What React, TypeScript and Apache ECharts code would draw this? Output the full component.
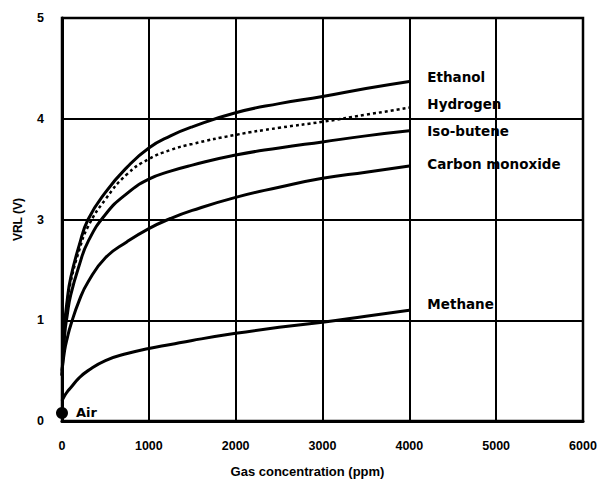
import React, { useEffect, useRef } from "react";
import * as echarts from "echarts";

const concentrations = [0, 30, 60, 100, 200, 300, 500, 750, 1000, 1250, 1500, 2000, 2500, 3000, 3500, 4000];
const ethanol = [0.45, 0.95, 1.2, 1.42, 1.75, 2.0, 2.27, 2.52, 2.71, 2.83, 2.92, 3.06, 3.15, 3.22, 3.3, 3.37];
const hydrogen = [0.45, 0.92, 1.17, 1.38, 1.7, 1.93, 2.2, 2.45, 2.6, 2.69, 2.75, 2.84, 2.91, 2.97, 3.04, 3.11];
const isoButene = [0.45, 0.85, 1.05, 1.25, 1.55, 1.78, 2.05, 2.26, 2.4, 2.48, 2.54, 2.64, 2.71, 2.77, 2.83, 2.88];
const carbonMonoxide = [0.5, 0.7, 0.82, 0.95, 1.2, 1.38, 1.62, 1.78, 1.91, 2.01, 2.09, 2.22, 2.32, 2.41, 2.47, 2.53];
const methane = [0.2, 0.25, 0.29, 0.33, 0.43, 0.5, 0.6, 0.67, 0.72, 0.76, 0.8, 0.87, 0.93, 0.98, 1.04, 1.1];
const airPoint = [0, 0.08];

const xTicks = ["0", "1000", "2000", "3000", "4000", "5000", "6000"];
const yTicks = ["0", "1", "3", "4", "5"];

const seriesNames = ["Ethanol", "Hydrogen", "Iso-butene", "Carbon monoxide", "Methane"];
const seriesValues = [ethanol, hydrogen, isoButene, carbonMonoxide, methane];
const labelOffsets = [[10, -4], [10, -4], [10, 0], [10, -2], [10, -6]];

export default function App() {
  const ref = useRef<HTMLDivElement>(null);
  useEffect(() => {
    if (!ref.current) return;
    const chart = echarts.init(ref.current, null, { renderer: "svg" });
    const tickFont = { fontFamily: "Liberation Sans", fontWeight: "bold", fontSize: 12.5, color: "#000" };
    const lineSeries = seriesNames.map((name, i) => ({
      type: "line",
      name,
      data: concentrations.map((c, j) => [c, seriesValues[i][j]]),
      smooth: 0.5,
      showSymbol: false,
      silent: true,
      lineStyle: {
        color: "#000",
        width: name === "Hydrogen" ? 2.5 : 3,
        type: name === "Hydrogen" ? [3, 3] : "solid",
      },
      endLabel: {
        show: true,
        formatter: name,
        offset: labelOffsets[i],
        fontFamily: "DejaVu Sans",
        fontWeight: "bold",
        fontSize: 13.5,
        color: "#000",
      },
    }));
    chart.setOption({
      animation: false,
      backgroundColor: "#fff",
      grid: { left: 62, right: 27, top: 18, bottom: 72, show: true, borderColor: "#000", borderWidth: 2.5 },
      xAxis: {
        type: "value",
        min: 0,
        max: 6000,
        interval: 1000,
        name: "Gas concentration (ppm)",
        nameLocation: "middle",
        nameGap: 44,
        nameTextStyle: { fontFamily: "Liberation Sans", fontWeight: "bold", fontSize: 13, color: "#000", padding: [0, 30, 0, 0] },
        axisLine: { show: true, lineStyle: { color: "#000", width: 3 } },
        axisTick: { show: false },
        axisLabel: { ...tickFont, margin: 18, formatter: (v: number) => xTicks[Math.round(v / 1000)] ?? "" },
        splitLine: { show: true, lineStyle: { color: "#000", width: 2 } },
      },
      yAxis: {
        type: "value",
        min: 0,
        max: 4,
        interval: 1,
        name: "VRL (V)",
        nameLocation: "middle",
        nameGap: 38,
        nameTextStyle: { fontFamily: "Liberation Sans", fontWeight: "bold", fontSize: 12, color: "#000" },
        axisLine: { show: true, lineStyle: { color: "#000", width: 3 } },
        axisTick: { show: false },
        axisLabel: { ...tickFont, margin: 18, formatter: (v: number) => yTicks[Math.round(v)] ?? "" },
        splitLine: { show: true, lineStyle: { color: "#000", width: 2 } },
      },
      series: [
        ...lineSeries,
        {
          type: "scatter",
          name: "Air",
          data: [airPoint],
          symbol: "circle",
          symbolSize: 12,
          itemStyle: { color: "#000", opacity: 1 },
          silent: true,
          label: {
            show: true,
            position: "right",
            distance: 8,
            formatter: "Air",
            fontFamily: "DejaVu Sans",
            fontWeight: "bold",
            fontSize: 13,
            color: "#000",
          },
        },
      ],
    });
    return () => chart.dispose();
  }, []);
  return <div ref={ref} style={{ position: "fixed", left: 0, top: 0, width: 610, height: 493, background: "#fff" }} />;
}
